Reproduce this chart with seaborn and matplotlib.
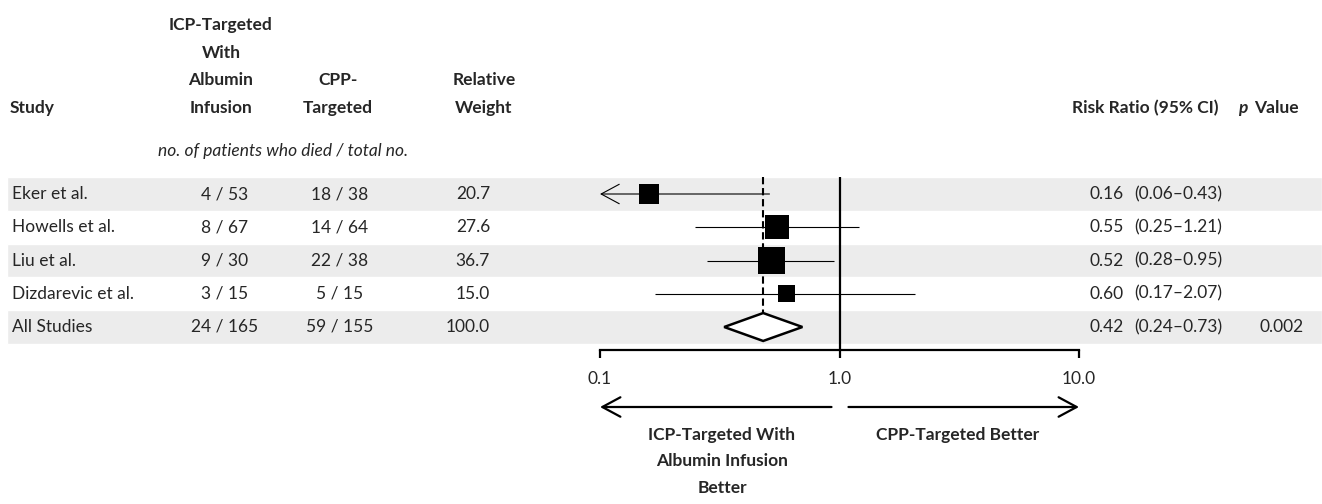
import numpy as np
import pandas as pd
import matplotlib
matplotlib.use("Agg")
import matplotlib.pyplot as plt
import seaborn as sns

# datos de la tabla
studies = ["Eker et al.", "Howells et al.", "Liu et al.", "Dizdarevic et al.", "All Studies"]
icp_died = [4, 8, 9, 3, 24]
icp_total = [53, 67, 30, 15, 165]
cpp_died = [18, 14, 22, 5, 59]
cpp_total = [38, 64, 38, 15, 155]
weights = [20.7, 27.6, 36.7, 15.0, 100.0]
rr_label = ["0.16", "0.55", "0.52", "0.60", "0.42"]
ci_label = ["(0.06–0.43)", "(0.25–1.21)", "(0.28–0.95)", "(0.17–2.07)", "(0.24–0.73)"]
p_label = ["", "", "", "", "0.002"]

# posiciones de las marcas
study_rr = [0.16, 0.55, 0.52, 0.60]
study_lo = [0.06, 0.25, 0.28, 0.17]
study_hi = [0.51, 1.21, 0.95, 2.07]
pooled_rr = 0.48
pooled_lo = 0.33
pooled_hi = 0.70

x_ticks = [0.1, 1.0, 10.0]
x_tick_labels = ["0.1", "1.0", "10.0"]

# layout (pixeles)
W, H = 1322, 504
ROW_Y0, ROW_H = 194, 33.25
AXIS_Y = 350
FS = 12.5
BAND = "#ececec"

sns.set_style("white")
plt.rcParams["font.family"] = ["Lato", "DejaVu Sans"]

fig = plt.figure(figsize=(W / 100, H / 100), dpi=100)

# eje de fondo en pixeles para la tabla
ax_bg = fig.add_axes([0, 0, 1, 1])
ax_bg.set_xlim(0, W)
ax_bg.set_ylim(H, 0)
ax_bg.axis("off")

n = len(studies)
row_px = ROW_Y0 + ROW_H * np.arange(n)
ax_bg.barh(row_px[::2], W - 7, left=7, height=ROW_H, color=BAND, zorder=0)

# encabezados
hdr = dict(fontsize=FS, fontweight="bold", va="bottom", linespacing=1.9)
ax_bg.text(10, 116, "Study", ha="left", **hdr)
ax_bg.text(221, 116, "ICP-Targeted\nWith\nAlbumin\nInfusion", ha="center", **hdr)
ax_bg.text(338, 116, "CPP-\nTargeted", ha="center", **hdr)
ax_bg.text(484, 116, "Relative\nWeight", ha="center", **hdr)
ax_bg.text(1218, 116, "Risk Ratio (95% CI)", ha="right", **hdr)
ax_bg.text(1238, 116, "p", ha="left", fontstyle="italic", **hdr)
ax_bg.text(1254, 116, "Value", ha="left", **hdr)
ax_bg.text(283, 151, "no. of patients who died / total no.", ha="center", va="center",
           fontsize=FS, fontstyle="italic")

# filas
for i in range(n):
    y = row_px[i]
    kw = dict(fontsize=FS, va="center")
    ax_bg.text(12, y, studies[i], ha="left", **kw)
    ax_bg.text(225, y, f"{icp_died[i]} / {icp_total[i]}", ha="center", **kw)
    ax_bg.text(340, y, f"{cpp_died[i]} / {cpp_total[i]}", ha="center", **kw)
    ax_bg.text(490, y, f"{weights[i]:.1f}", ha="right", **kw)
    ax_bg.text(1090, y, rr_label[i], ha="left", **kw)
    ax_bg.text(1134, y, ci_label[i], ha="left", **kw)
    ax_bg.text(1304, y, p_label[i], ha="right", **kw)

# eje del forest plot
top_px = ROW_Y0 - ROW_H / 2
fa = fig.add_axes([600 / W, (H - AXIS_Y) / H, 479 / W, (AXIS_Y - top_px) / H])
fa.patch.set_alpha(0)

df = pd.DataFrame({"rr": study_rr, "row": np.arange(len(study_rr)), "weight": weights[:4]})
k = (4.5 * 0.72) ** 2
sns.scatterplot(data=df, x="rr", y="row", size="weight",
                sizes=(k * df.weight.min(), k * df.weight.max()),
                size_norm=(df.weight.min(), df.weight.max()),
                marker="s", color="black", linewidth=0, legend=False, ax=fa, zorder=4)

fa.set_xscale("log")
xmin, xmax = x_ticks[0], x_ticks[-1]
for i, (lo, hi) in enumerate(zip(study_lo, study_hi)):
    if lo < xmin:
        fa.annotate("", xy=(xmin, i), xytext=(hi, i),
                    arrowprops=dict(arrowstyle="->, head_length=1.3, head_width=0.7",
                                    lw=0.8, color="black", shrinkA=0, shrinkB=0,
                                    mutation_scale=10),
                    annotation_clip=False, zorder=3)
    else:
        fa.hlines(i, lo, hi, color="black", lw=0.8, zorder=3)

# diamante del total
dh = 0.42
yp = n - 1
fa.fill([pooled_lo, pooled_rr, pooled_hi, pooled_rr], [yp, yp - dh, yp, yp + dh],
        facecolor="white", edgecolor="black", lw=1.8, zorder=4)
fa.vlines(pooled_rr, -0.5, yp - dh, color="black", lw=1.5, linestyles=(0, (3.5, 1.8)), zorder=2)
fa.axvline(1.0, color="black", lw=1.6, zorder=2)

fa.set_xlim(xmin, xmax)
fa.set_ylim((AXIS_Y - ROW_Y0) / ROW_H, -0.5)
fa.set_xticks(x_ticks)
fa.set_xticklabels(x_tick_labels)
fa.xaxis.set_minor_locator(matplotlib.ticker.NullLocator())
fa.set_yticks([])
fa.set_xlabel("")
fa.set_ylabel("")
for s in ["left", "right", "top"]:
    fa.spines[s].set_visible(False)
fa.spines["bottom"].set_linewidth(1.6)
fa.spines["bottom"].set_color("black")
fa.tick_params(axis="x", direction="out", length=6, width=1.6, color="black",
               labelsize=FS, pad=9, bottom=True)

# flechas de direccion
ya = (407 - ROW_Y0) / ROW_H
arrow = dict(arrowstyle="->, head_length=1.3, head_width=0.7", lw=1.6, color="black",
             shrinkA=0, shrinkB=0, mutation_scale=10)
fa.annotate("", xy=(xmin, ya), xytext=(0.926, ya), arrowprops=arrow, annotation_clip=False)
fa.annotate("", xy=(xmax, ya), xytext=(1.09, ya), arrowprops=arrow, annotation_clip=False)

ax_bg.text(722, 427, "ICP-Targeted With\nAlbumin Infusion\nBetter", ha="center", va="top",
           fontsize=FS, fontweight="bold", linespacing=1.8)
ax_bg.text(958, 427, "CPP-Targeted Better", ha="center", va="top",
           fontsize=FS, fontweight="bold")

fig.savefig("out.png", dpi=100)
